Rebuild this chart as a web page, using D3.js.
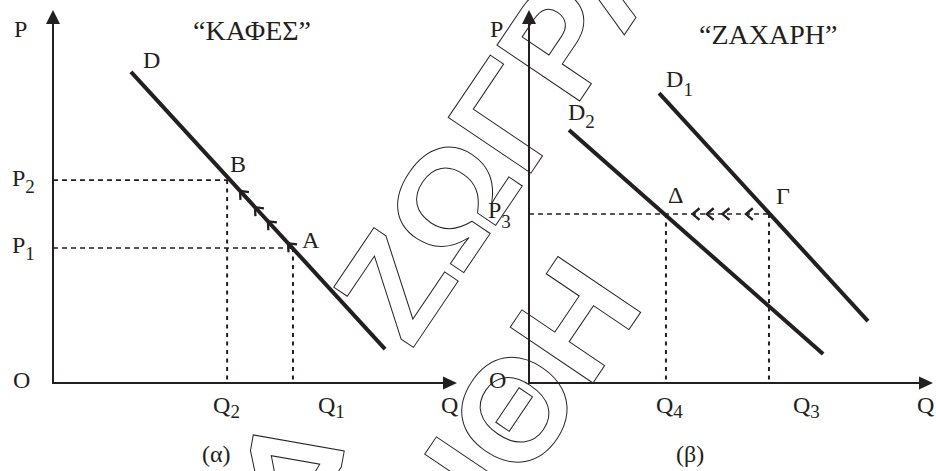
<!DOCTYPE html>
<html>
<head>
<meta charset="utf-8">
<script src="https://cdn.jsdelivr.net/npm/d3@7"></script>
<style>
  body { margin: 0; background: #fff; }
  text { font-family: "Liberation Serif", "Times New Roman", serif; fill: #231f20; }
  .wm { font-family: "Liberation Sans", Arial, sans-serif; font-weight: bold; font-size: 145px;
        fill: none; stroke: #231f20; stroke-width: 1; }
</style>
</head>
<body>
<svg id="root"></svg>
<script>
// (α) "ΚΑΦΕΣ"
const demandL = [[1.93, 8.34], [8.22, 0.91]];
const pointB = [4.31, 5.44];       // Q2, P2
const pointA = [5.94, 3.62];       // Q1, P1
const movesL = [4.63, 5.0, 5.32, 5.82];   // small arrows A -> B (q)

// (β) "ΖΑΧΑΡΗ"
const demandD1 = [[3.22, 7.77], [8.39, 1.66]];
const demandD2 = [[0.99, 6.78], [7.28, 0.78]];
const pointG = [5.94, 4.53];       // Q3, P3
const pointDelta = [3.39, 4.53];   // Q4, P3
const movesR = [4.05, 4.40, 4.79, 5.37];  // small arrows Γ -> Δ (q)

const titles = ['\u201CΚΑΦΕΣ\u201D', '\u201CΖΑΧΑΡΗ\u201D'];
const captions = ['(α)', '(β)'];

const W = 936, H = 471;
const ink = '#231f20';

const svg = d3.select('#root').attr('width', W).attr('height', H);

const yS = d3.scaleLinear().domain([0, 10]).range([383, 10]);
const xL = d3.scaleLinear().domain([0, 10]).range([53, 457]);
const xR = d3.scaleLinear().domain([0, 10]).range([529, 933]);

// watermark (outlined letters behind the chart)
const wm = svg.append('g');
wm.append('text').attr('class', 'wm')
  .attr('transform', 'translate(411,351) rotate(-56)').text('ΖΩΓΡΑ');
wm.append('text').attr('class', 'wm')
  .attr('transform', 'translate(502,518) rotate(-56)').text('ΙΘΗ');
wm.append('text').attr('class', 'wm')
  .attr('transform', 'translate(350,452) rotate(190)').text('Δ');

function label(g, x, y, main, sub, subDy, size) {
  const t = g.append('text').attr('x', x).attr('y', y).attr('font-size', size || 24).text(main);
  if (sub) {
    t.append('tspan').attr('font-size', 19).attr('dy', subDy || 7).text(sub);
  }
  return t;
}

function axes(g, x) {
  const x0 = x(0), y0 = yS(0), xt = x(10), yt = yS(10);
  g.append('line').attr('x1', x0).attr('y1', y0).attr('x2', x0).attr('y2', yt + 10)
    .attr('stroke', ink).attr('stroke-width', 2);
  g.append('line').attr('x1', x0 - 1).attr('y1', y0).attr('x2', xt - 10).attr('y2', y0)
    .attr('stroke', ink).attr('stroke-width', 2);
  g.append('path').attr('d', `M${x0},${yt} L${x0 - 7},${yt + 14} L${x0 + 7},${yt + 14} Z`).attr('fill', ink);
  g.append('path').attr('d', `M${xt},${y0} L${xt - 14},${y0 - 6.5} L${xt - 14},${y0 + 6.5} Z`).attr('fill', ink);
}

function demand(g, x, d) {
  g.append('line')
    .attr('x1', x(d[0][0])).attr('y1', yS(d[0][1]))
    .attr('x2', x(d[1][0])).attr('y2', yS(d[1][1]))
    .attr('stroke', ink).attr('stroke-width', 4);
}

function hGuide(g, x, pt) {
  g.append('line').attr('x1', x(0)).attr('y1', yS(pt[1])).attr('x2', x(pt[0])).attr('y2', yS(pt[1]))
    .attr('stroke', ink).attr('stroke-width', 1.6).attr('stroke-dasharray', '5,4');
}

function vGuide(g, x, pt) {
  g.append('line').attr('x1', x(pt[0])).attr('y1', yS(pt[1])).attr('x2', x(pt[0])).attr('y2', yS(0))
    .attr('stroke', ink).attr('stroke-width', 2).attr('stroke-dasharray', '4,4.5');
}

function chevron(g, tx, ty, dx, dy) {
  const len = 9, a = 40 * Math.PI / 180;
  const arm = (s) => {
    const c = Math.cos(s * a), si = Math.sin(s * a);
    const rx = dx * c - dy * si, ry = dx * si + dy * c;
    return [tx - len * rx, ty - len * ry];
  };
  const p1 = arm(1), p2 = arm(-1);
  g.append('path').attr('d', `M${p1[0]},${p1[1]} L${tx},${ty} L${p2[0]},${p2[1]}`)
    .attr('fill', 'none').attr('stroke', ink).attr('stroke-width', 2.3);
}

function pOnLine(d, q) {
  const t = (q - d[0][0]) / (d[1][0] - d[0][0]);
  return d[0][1] + t * (d[1][1] - d[0][1]);
}

// ---- panel (α)
const gL = svg.append('g');
hGuide(gL, xL, pointB); vGuide(gL, xL, pointB);
hGuide(gL, xL, pointA); vGuide(gL, xL, pointA);
axes(gL, xL);
demand(gL, xL, demandL);
{
  const ux = xL(demandL[0][0]) - xL(demandL[1][0]);
  const uy = yS(demandL[0][1]) - yS(demandL[1][1]);
  const n = Math.hypot(ux, uy);
  movesL.forEach(q => chevron(gL, xL(q), yS(pOnLine(demandL, q)), ux / n, uy / n));
}
label(gL, 14, yS(10) + 27, 'P');
label(gL, 13, yS(0) + 5, 'O');
label(gL, 12, yS(pointB[1]) + 6, 'P', '2');
label(gL, 12, yS(pointA[1]) + 5, 'P', '1');
label(gL, xL(pointB[0]) - 14, yS(0) + 30, 'Q', '2', 5);
label(gL, xL(pointA[0]) + 25, yS(0) + 30, 'Q', '1', 5);
label(gL, xL(10) - 16, yS(0) + 30, 'Q');
label(gL, xL(demandL[0][0]) + 12, yS(demandL[0][1]) - 4, 'D');
label(gL, xL(pointB[0]) + 3, yS(pointB[1]) - 8, 'B');
label(gL, xL(pointA[0]) + 9, yS(pointA[1]), 'A');
label(gL, 193, 40, titles[0], null, 0, 28);
label(gL, 202, 462, captions[0]);

// ---- panel (β)
const gR = svg.append('g');
hGuide(gR, xR, pointG);
vGuide(gR, xR, pointDelta);
vGuide(gR, xR, pointG);
axes(gR, xR);
demand(gR, xR, demandD1);
demand(gR, xR, demandD2);
movesR.forEach(q => chevron(gR, xR(q), yS(pointG[1]), -1, 0));
label(gR, 490, yS(10) + 27, 'P');
label(gR, 489, yS(0) + 5, 'O');
label(gR, 488, yS(pointG[1]) + 4, 'P', '3', 10);
label(gR, xR(pointDelta[0]) - 10, yS(0) + 30, 'Q', '4', 5);
label(gR, xR(pointG[0]) + 24, yS(0) + 30, 'Q', '3', 5);
label(gR, xR(10) - 16, yS(0) + 30, 'Q');
label(gR, xR(demandD1[0][0]) + 7, yS(demandD1[0][1]) - 6, 'D', '1', 9);
label(gR, xR(demandD2[0][0]) - 1, yS(demandD2[0][1]) - 10, 'D', '2', 8);
label(gR, xR(pointDelta[0]) + 2, yS(pointDelta[1]) - 11, 'Δ');
label(gR, xR(pointG[0]) + 7, yS(pointG[1]) - 10, 'Γ');
label(gR, 699, 44, titles[1], null, 0, 28);
label(gR, 676, 462, captions[1]);
</script>
</body>
</html>
